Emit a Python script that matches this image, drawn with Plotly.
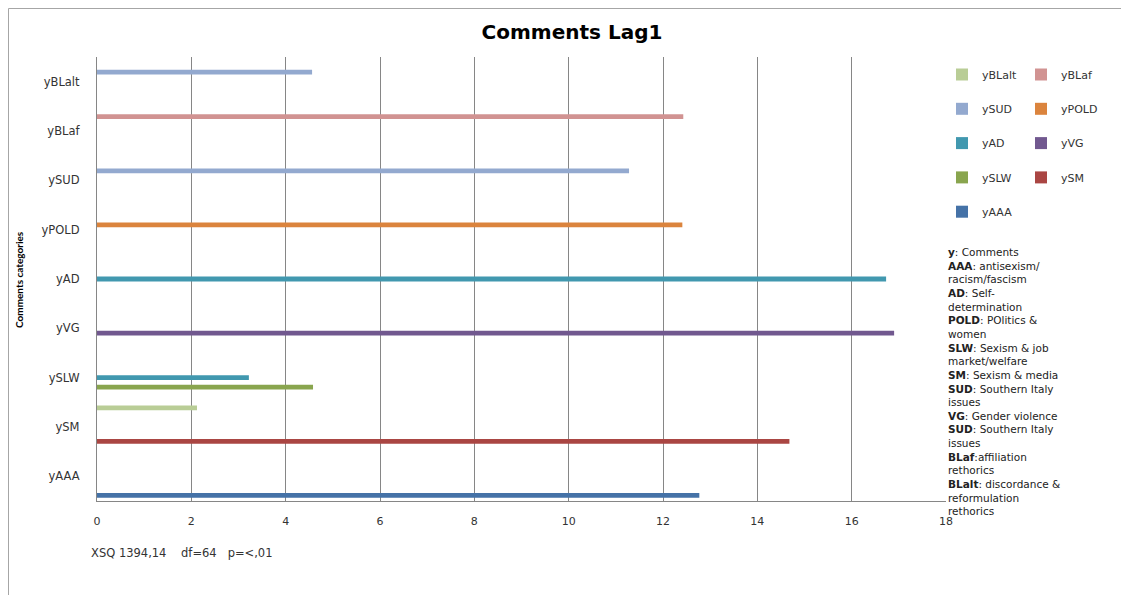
import plotly.graph_objects as go

# Categories (bottom to top)
categories = ["yAAA", "ySM", "ySLW", "yVG", "yAD", "yPOLD", "ySUD", "yBLaf", "yBLalt"]

# Series values per category (None = no bar)
yAAA   = [12.77, None, None, None, None, None, None, None, None]
ySM    = [None, 14.68, None, None, None, None, None, None, None]
ySLW   = [None, None, 4.58, None, None, None, None, None, None]
yVG    = [None, None, None, 16.9, None, None, None, None, None]
yAD    = [None, None, 3.22, None, 16.73, None, None, None, None]
yPOLD  = [None, None, None, None, None, 12.41, None, None, None]
ySUD   = [None, None, None, None, None, None, 11.28, None, 4.56]
yBLaf  = [None, None, None, None, None, None, None, 12.43, None]
yBLalt = [None, 2.12, None, None, None, None, None, None, None]

series_names = ["yAAA", "ySM", "ySLW", "yVG", "yAD", "yPOLD", "ySUD", "yBLaf", "yBLalt"]
series_values = [yAAA, ySM, ySLW, yVG, yAD, yPOLD, ySUD, yBLaf, yBLalt]
series_colors = ["#4572A7", "#AA4643", "#89A54E", "#71588F", "#4198AF",
                 "#DB843D", "#93A9CF", "#D19392", "#B9CD96"]
legend_column = ["legend", "legend2", "legend", "legend2", "legend",
                 "legend2", "legend", "legend2", "legend"]

x_ticks = [0, 2, 4, 6, 8, 10, 12, 14, 16, 18]

FONT = "DejaVu Sans"

fig = go.Figure()
for i, (name, vals, col, lg) in enumerate(zip(series_names, series_values, series_colors, legend_column)):
    fig.add_trace(go.Bar(
        y=categories, x=vals, name=name, orientation="h",
        marker=dict(color=col, line=dict(width=0)),
        legend=lg, legendgroup=name, legendrank=100 - i,
    ))

OFF = 8  # page body margin
W, H = 1121, 587
L, T = 97 - OFF, 57 - OFF
pw, ph = 849, 444
R, B = W - L - pw, H - T - ph

def px_x(p):  # page x -> paper
    return (p - OFF - L) / pw

def px_y(p):  # page y -> paper
    return (T + ph - (p - OFF)) / ph

legend_common = dict(
    orientation="v", traceorder="grouped", tracegroupgap=15.3,
    font=dict(family=FONT, size=11, color="#333333"),
    itemwidth=30, bgcolor="rgba(0,0,0,0)", yanchor="top", xanchor="left",
)

notes = ("<b>y</b>: Comments<br><b>AAA</b>: antisexism/<br>racism/fascism<br>"
         "<b>AD</b>: Self-<br>determination<br><b>POLD</b>: POlitics &amp;<br>women<br>"
         "<b>SLW</b>: Sexism &amp; job<br>market/welfare<br><b>SM</b>: Sexism &amp; media<br>"
         "<b>SUD</b>: Southern Italy<br>issues<br><b>VG</b>: Gender violence<br>"
         "<b>SUD</b>: Southern Italy<br>issues<br><b>BLaf</b>:affiliation<br>rethorics<br>"
         "<b>BLalt</b>: discordance &amp;<br>reformulation<br>rethorics")

fig.update_layout(
    width=W, height=H,
    margin=dict(l=L, r=R, t=T, b=B),
    paper_bgcolor="white", plot_bgcolor="white",
    barmode="group", bargap=0.13, bargroupgap=0,
    font=dict(family=FONT, size=11, color="#333333"),
    title=dict(text="<b>Comments Lag1</b>", x=(572 - OFF) / W, xanchor="center",
               y=1 - (32 - OFF) / H, yanchor="middle",
               font=dict(family=FONT, size=20, color="#000000")),
    xaxis=dict(range=[0, 18], tickvals=x_ticks, showgrid=True, gridcolor="#868686",
               gridwidth=1.3, showline=True, linecolor="#868686", linewidth=1.3,
               zeroline=False, ticks="", ticklabelstandoff=10,
               tickfont=dict(family=FONT, size=11, color="#333333")),
    yaxis=dict(categoryorder="array", categoryarray=categories, showgrid=False,
               showline=True, linecolor="#868686", linewidth=1.3, ticks="",
               ticklabelstandoff=14,
               tickfont=dict(family=FONT, size=11.5, color="#333333")),
    legend=dict(x=px_x(942), y=px_y(60), **legend_common),
    legend2=dict(x=px_x(1021), y=px_y(60), **legend_common),
    annotations=[
        dict(text=notes, xref="paper", yref="paper", x=px_x(946), y=px_y(244),
             xanchor="left", yanchor="top", align="left", showarrow=False,
             font=dict(family=FONT, size=10.5, color="#222222")),
        dict(text="<b>Comments categories</b>", xref="paper", yref="paper",
             x=px_x(19), y=px_y(280), textangle=-90, showarrow=False,
             xanchor="center", yanchor="middle",
             font=dict(family="Lato", size=10, color="#000000")),
        dict(text="XSQ 1394,14&nbsp;&nbsp;&nbsp; df=64&nbsp;&nbsp; p=&lt;,01", xref="paper", yref="paper",
             x=px_x(89), y=px_y(553), xanchor="left", yanchor="middle",
             showarrow=False, font=dict(family=FONT, size=11.5, color="#333333")),
    ],
    shapes=[
        dict(type="rect", xref="paper", yref="paper",
             x0=(0.5 - L) / pw, x1=(1118 - L) / pw,
             y0=(T + ph - 600) / ph, y1=(T + ph - 0.5) / ph,
             line=dict(color="#A6A6A6", width=1), layer="below"),
    ],
)

fig.write_html("out.html")
